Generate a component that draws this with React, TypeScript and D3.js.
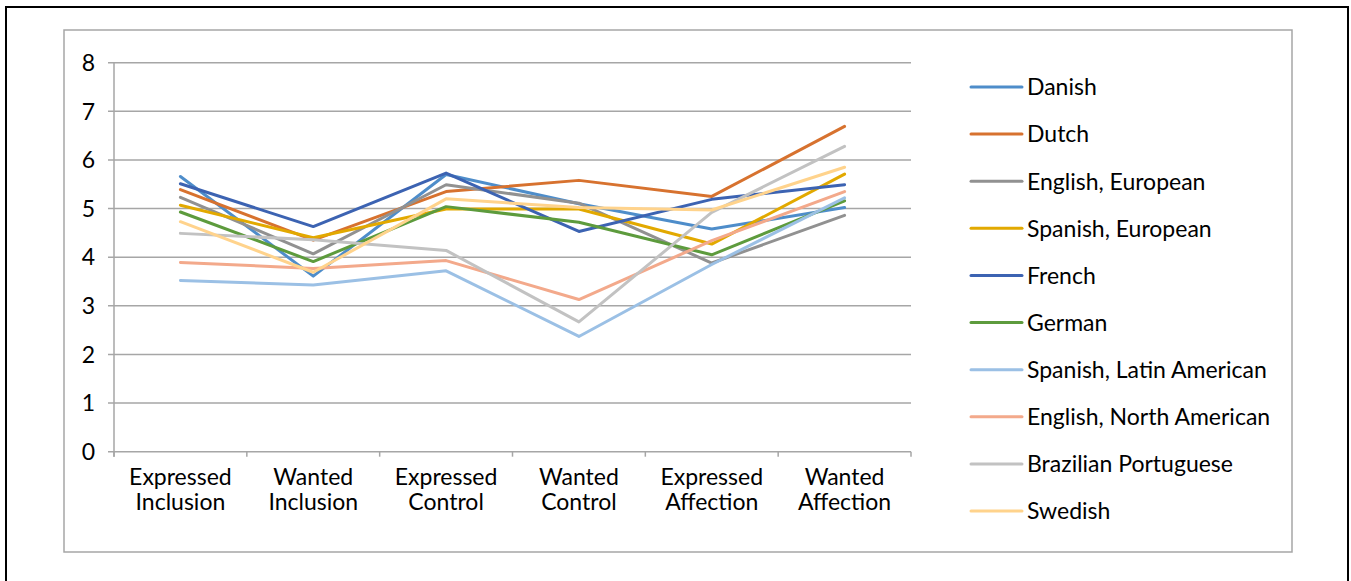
import React from 'react';
import * as d3 from 'd3';

const categories = [
  ['Expressed', 'Inclusion'],
  ['Wanted', 'Inclusion'],
  ['Expressed', 'Control'],
  ['Wanted', 'Control'],
  ['Expressed', 'Affection'],
  ['Wanted', 'Affection'],
];

const seriesNames = [
  'Danish',
  'Dutch',
  'English, European',
  'Spanish, European',
  'French',
  'German',
  'Spanish, Latin American',
  'English, North American',
  'Brazilian Portuguese',
  'Swedish',
];

const danish = [5.66, 3.61, 5.7, 5.1, 4.58, 5.02];
const dutch = [5.39, 4.35, 5.35, 5.58, 5.25, 6.69];
const englishEuropean = [5.23, 4.07, 5.49, 5.11, 3.88, 4.86];
const spanishEuropean = [5.07, 4.4, 4.99, 4.99, 4.27, 5.71];
const french = [5.51, 4.63, 5.73, 4.53, 5.19, 5.49];
const german = [4.93, 3.91, 5.04, 4.72, 4.05, 5.16];
const spanishLatinAmerican = [3.52, 3.43, 3.72, 2.37, 3.85, 5.22];
const englishNorthAmerican = [3.89, 3.77, 3.93, 3.13, 4.34, 5.35];
const brazilianPortuguese = [4.49, 4.36, 4.14, 2.67, 4.92, 6.28];
const swedish = [4.73, 3.69, 5.2, 5.02, 4.97, 5.85];

const seriesValues = [
  danish, dutch, englishEuropean, spanishEuropean, french,
  german, spanishLatinAmerican, englishNorthAmerican, brazilianPortuguese, swedish,
];

const yTicks = [0, 1, 2, 3, 4, 5, 6, 7, 8];

const colors = [
  '#4e8dca', '#d7722f', '#919191', '#e2a900', '#3c63b2',
  '#5d9b3d', '#9bc0e5', '#f3a98b', '#c2c2c2', '#ffd38c',
];

const font = "Lato, 'Open Sans', sans-serif";

export default function App() {
  const x = d3.scaleBand<number>().domain(d3.range(categories.length)).range([114, 911]);
  const y = d3.scaleLinear().domain([0, 8]).range([451.7, 62.7]);
  const line = d3.line<number>()
    .x((_, i) => (x(i) as number) + x.bandwidth() / 2)
    .y((d) => y(d));

  const legendY = d3.scaleLinear().domain([0, seriesNames.length - 1]).range([87, 511]);

  return (
    <svg width={1351} height={581} style={{ position: 'fixed', left: 0, top: 0, background: '#fff' }}
      fontFamily={font}>
      <rect x={6} y={7} width={1342} height={620} fill="#fff" stroke="#000" strokeWidth={2} />
      <rect x={64} y={30} width={1228} height={522} fill="#fff" stroke="#a6a6a6" strokeWidth={1.5} />

      {yTicks.map((t) => (
        <g key={t}>
          <line x1={108} x2={911} y1={y(t)} y2={y(t)} stroke="#a6a6a6" strokeWidth={1.5} />
          <text x={95} y={y(t)} dy="0.36em" textAnchor="end" fontSize={23} fill="#000">{t}</text>
        </g>
      ))}
      <line x1={114} x2={114} y1={y(8)} y2={y(0) + 5} stroke="#a6a6a6" strokeWidth={1.5} />
      {d3.range(categories.length + 1).map((i) => {
        const px = 114 + i * x.bandwidth();
        return <line key={i} x1={px} x2={px} y1={y(0)} y2={y(0) + 5} stroke="#a6a6a6" strokeWidth={1.5} />;
      })}
      {categories.map((c, i) => {
        const cx = (x(i) as number) + x.bandwidth() / 2;
        return (
          <g key={i}>
            <text x={cx} y={485} textAnchor="middle" fontSize={23} fill="#000">{c[0]}</text>
            <text x={cx} y={510} textAnchor="middle" fontSize={23} fill="#000">{c[1]}</text>
          </g>
        );
      })}

      {seriesValues.map((vals, s) => (
        <path key={s} d={line(vals) || ''} fill="none" stroke={colors[s]} strokeWidth={3}
          strokeLinejoin="round" strokeLinecap="round" />
      ))}

      {seriesNames.map((n, s) => (
        <g key={n}>
          <line x1={971} x2={1022} y1={legendY(s)} y2={legendY(s)} stroke={colors[s]} strokeWidth={3} strokeLinecap="round" />
          <text x={1027} y={legendY(s)} dy="0.36em" fontSize={23} fill="#000">{n}</text>
        </g>
      ))}
    </svg>
  );
}
